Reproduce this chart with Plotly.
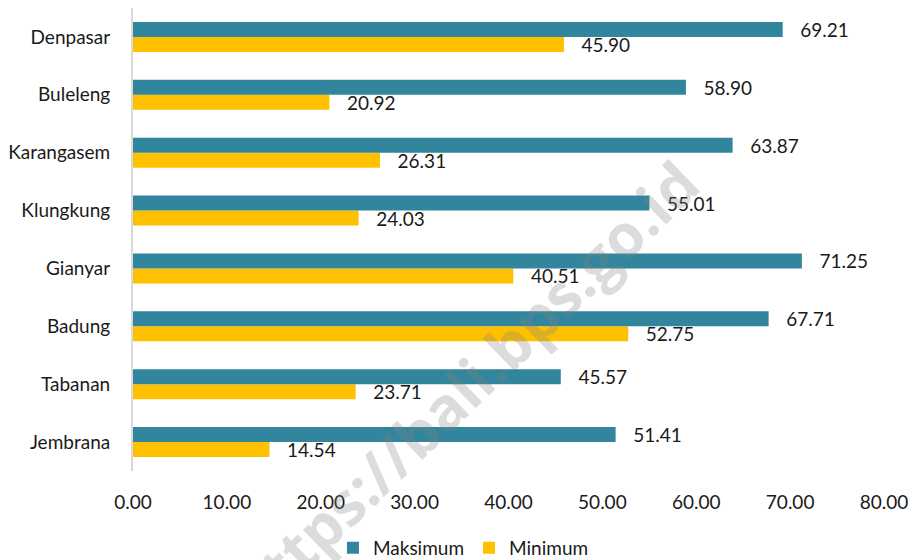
import plotly.graph_objects as go

categories = ["Jembrana", "Tabanan", "Badung", "Gianyar", "Klungkung", "Karangasem", "Buleleng", "Denpasar"]
maksimum = [51.41, 45.57, 67.71, 71.25, 55.01, 63.87, 58.90, 69.21]
minimum = [14.54, 23.71, 52.75, 40.51, 24.03, 26.31, 20.92, 45.90]
x_ticks = [0, 10, 20, 30, 40, 50, 60, 70, 80]

FONT = "Lato"
FS = 19
TXT = "#1a1a1a"

fig = go.Figure()
fig.add_trace(go.Bar(
    y=categories, x=minimum, orientation="h", name="Minimum",
    marker=dict(color="#FFC000", line=dict(width=0)),
    texttemplate="\u00a0\u00a0\u00a0%{x:.2f}", textposition="outside",
    constraintext="none", cliponaxis=False,
    textfont=dict(family=FONT, size=FS, color=TXT),
))
fig.add_trace(go.Bar(
    y=categories, x=maksimum, orientation="h", name="Maksimum",
    marker=dict(color="#31859C", line=dict(width=0)),
    texttemplate="\u00a0\u00a0\u00a0%{x:.2f}", textposition="outside",
    constraintext="none", cliponaxis=False,
    textfont=dict(family=FONT, size=FS, color=TXT),
))

fig.update_layout(
    width=917, height=560,
    margin=dict(l=125, r=41, t=0, b=97),
    paper_bgcolor="white", plot_bgcolor="white",
    barmode="group", bargap=0.48, bargroupgap=0,
    font=dict(family=FONT, size=FS, color=TXT),
    showlegend=True,
    legend=dict(orientation="h", traceorder="reversed", x=0.44, xanchor="center",
                y=-0.166, yanchor="middle", font=dict(family=FONT, size=FS, color=TXT),
                itemwidth=30),
    xaxis=dict(range=[0, 80], tickvals=x_ticks, tickformat=".2f", showgrid=False,
               zeroline=False, showline=False, ticks="outside", ticklen=14,
               tickcolor="rgba(0,0,0,0)", automargin=False,
               tickfont=dict(family=FONT, size=FS, color=TXT)),
    yaxis=dict(categoryorder="array", categoryarray=categories, showgrid=False,
               showline=True, linecolor="#D9D9D9", linewidth=2, ticks="outside",
               ticklen=17, tickcolor="rgba(0,0,0,0)", automargin=False,
               tickfont=dict(family=FONT, size=FS, color=TXT)),
    annotations=[dict(
        text="<b>https://bali.bps.go.id</b>", xref="paper", yref="paper",
        x=0.44, y=0.18, xanchor="center", yanchor="middle",
        showarrow=False, textangle=-44,
        font=dict(family="Open Sans", size=60, color="rgba(128,128,128,0.28)"),
    )],
)

fig.write_html("out.html")
